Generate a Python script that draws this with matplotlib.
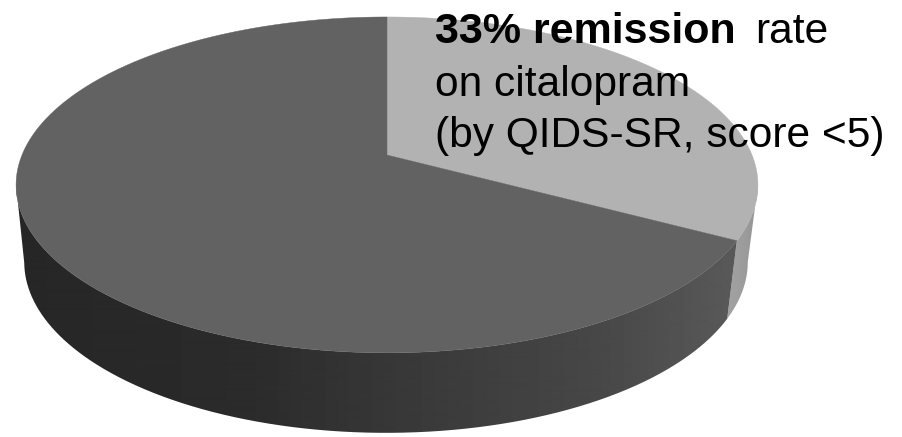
import numpy as np
import matplotlib
matplotlib.use("Agg")
import matplotlib.pyplot as plt
from matplotlib.patches import PathPatch
from matplotlib.path import Path
from matplotlib.colors import to_rgb

# Slice shares, in percent, clockwise from twelve o'clock
shares = [33, 67]
top_colors = ["#b2b2b2", "#626262"]

# Headline text
headline_bold = "33% remission"
headline_rest = "rate"
detail_lines = ["on citalopram", "(by QIDS-SR, score <5)"]

# Side wall shading: pixel column -> grey level for each slice
wall_x = [
    [725, 745, 760],
    [20, 250, 400, 600, 735],
]
wall_grey = [
    [0.64, 0.61, 0.58],
    [0.15, 0.17, 0.22, 0.28, 0.35],
]

TILT = 0.178


def project(theta, cx, apex_y, half_w, half_h):
    """Perspective view of a unit disc; theta runs clockwise from the far edge."""
    u, v = np.sin(theta), np.cos(theta)
    d = 1 + TILT * v
    return cx + half_w * u / d, apex_y - half_h * v / d


def top_rim(theta):
    return project(theta, 387, 155, 365, 162.6)


def bottom_rim(theta):
    return project(theta, 386, 231.5, 356, 165.5)


fig = plt.figure(figsize=(9.03, 4.37), dpi=100, facecolor="white")
ax = fig.add_axes([0, 0, 1, 1])
ax.axis("off")

edges = np.concatenate([[0], np.cumsum(shares)]) / np.sum(shares) * 2 * np.pi

# Only the near part of the rim shows a wall; these are its silhouette angles
near_start = np.arccos(-TILT)
near_end = 2 * np.pi - near_start

# Side walls: a horizontal grey ramp clipped to the band between the two rims
columns = np.arange(0, 903)
for i in (0, 1):
    lo, hi = max(edges[i], near_start), min(edges[i + 1], near_end)
    t = np.linspace(lo, hi, 600)
    x0, y0 = top_rim(t)
    x1, y1 = bottom_rim(t)
    band = np.column_stack([np.r_[x0, x1[::-1]], np.r_[y0, y1[::-1]]])
    patch = PathPatch(Path(band), facecolor="none", edgecolor="none", transform=ax.transData)
    ax.add_patch(patch)
    ramp = np.interp(columns + 0.5, wall_x[i], wall_grey[i])[None, :]
    img = ax.imshow(
        ramp, cmap="gray", vmin=0, vmax=1, extent=(0, 903, 437, 0),
        aspect="auto", interpolation="bilinear", zorder=1,
    )
    img.set_clip_path(patch)

# Upper faces of the slices, meeting at the projected disc centre
for i in (0, 1):
    t = np.linspace(edges[i], edges[i + 1], 400)
    x, y = top_rim(t)
    ax.fill(
        np.r_[387, x], np.r_[155, y],
        facecolor=to_rgb(top_colors[i]), edgecolor=to_rgb(top_colors[i]),
        linewidth=0.3, zorder=2,
    )

ax.set_xlim(0, 903)
ax.set_ylim(437, 0)

font = dict(family="Liberation Sans", color="black", va="baseline", ha="left", zorder=3)
ax.text(435, 43, headline_bold, fontweight="bold", fontsize=31, **font)
ax.text(755, 43, headline_rest, fontsize=30.6, **font)
ax.text(435, 96, detail_lines[0], fontsize=30.6, **font)
ax.text(435, 147, detail_lines[1], fontsize=30.6, **font)

fig.savefig("out.png", dpi=100)
